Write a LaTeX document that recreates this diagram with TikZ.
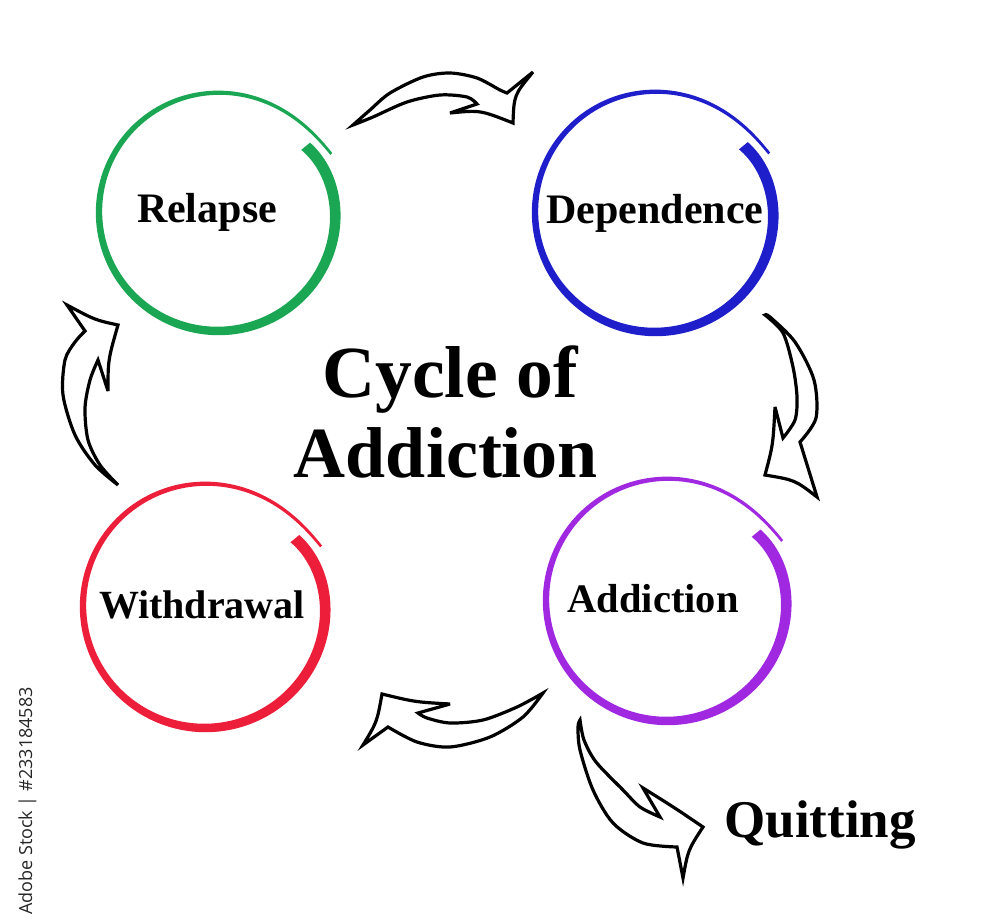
\documentclass[tikz,border=0pt]{standalone}
\usepackage{fontspec}
\setmainfont{Liberation Serif}
\newfontfamily\wmfont{Open Sans}
\definecolor{cgreen}{RGB}{26,166,82}
\definecolor{cblue}{RGB}{30,30,202}
\definecolor{cpurple}{RGB}{160,40,225}
\definecolor{cred}{RGB}{236,30,58}
\newcommand\handring[4]{% cx, cy, R, colour
  \fill[#4] plot[domain=0:1, samples=240, variable=\t]
    ({#1+(#3*rr(\t)+ww(\t)/2)*cos(th(\t))},{#2-(#3*rr(\t)+ww(\t)/2)*sin(th(\t))})
    -- plot[domain=1:0, samples=240, variable=\t]
    ({#1+(#3*rr(\t)-ww(\t)/2)*cos(th(\t))},{#2-(#3*rr(\t)-ww(\t)/2)*sin(th(\t))})
    -- cycle;}
\begin{document}
\begin{tikzpicture}[x=1pt,y=-1pt,
  declare function={
    rr(\x)=1-0.08*exp(-\x/0.06)+0.07*exp((\x-1)/0.05);
    ww(\x)=11.5-8.8*\x;
    th(\x)=37-370*\x;
  },
  arrowshape/.style={draw=black, fill=white, line width=3.2pt, line join=miter, miter limit=6},
  lbl/.style={anchor=base, inner sep=0pt, font=\bfseries\fontsize{#1}{#1}\selectfont},
]
\useasboundingbox[fill=white] (0,0) rectangle (1000,923);

% hand-drawn rings
\handring{218}{212}{119}{cgreen}
\handring{655}{212}{120}{cblue}
\handring{667}{600}{121}{cpurple}
\handring{205}{606}{122}{cred}

% labels
\node[lbl=42] (relapse) at (207,222) {Relapse};
\node[lbl=42] (dependence) at (655,223) {Dependence};
\node[lbl=40.5] (addiction) at (653,612) {Addiction};
\node[lbl=40] (withdrawal) at (202,618) {Withdrawal};
\node[lbl=73.5] (title1) at (450,397) {Cycle of};
\node[lbl=72] (title2) at (446,477) {Addiction};
\node[lbl=53] (quitting) at (820,837) {Quitting};

% curved block arrows
% Relapse -> Dependence
\draw[arrowshape] plot[smooth] coordinates {(353,125) (370,110) (390,93) (423,77) (450,73) (477,78) (500,90) (507,93)}
  -- (533,72) .. controls (514,95) .. (513,123) .. controls (480,110) .. (450,113) -- (477,104)
  -- plot[smooth] coordinates {(477,104) (467,97) (440,95) (407,102) (373,117) (353,125)} -- cycle;
% Dependence -> Addiction
\draw[arrowshape] plot[smooth] coordinates {(765,315) (783,333) (793,367) (797,397) (795,420) (783,438)}
  -- (775,407) .. controls (773,445) .. (765,475) .. controls (795,480) .. (817,497) -- (800,442)
  -- plot[smooth] coordinates {(800,442) (816,418) (814,380) (795,342) (770,317) (765,315)} -- cycle;
% Addiction -> Withdrawal
\draw[arrowshape] plot[smooth] coordinates {(543,693) (517,707) (483,720) (450,723) (427,718) (418,713)}
  -- (450,704) .. controls (415,702) .. (382,694) .. controls (377,722) .. (363,745) -- (388,727)
  -- plot[smooth] coordinates {(388,727) (417,742) (450,747) (490,737) (523,717) (543,693)} -- cycle;
% Withdrawal -> Relapse
\draw[arrowshape] plot[smooth] coordinates {(118,485) (95,465) (75,435) (63,395) (65,360) (75,342) (85,331)}
  -- (67,305) .. controls (95,320) .. (118,325) .. controls (108,360) .. (108,391) -- (98,360)
  -- plot[smooth] coordinates {(98,360) (90,380) (85,408) (88,440) (100,465) (118,485)} -- cycle;
% Addiction -> Quitting
\draw[arrowshape] plot[smooth] coordinates {(580,720) (584,740) (596,762) (623,790) (640,807) (660,817)}
  -- (643,788) .. controls (675,808) .. (703,827) .. controls (688,850) .. (683,878) -- (677,847)
  -- plot[smooth] coordinates {(677,847) (643,843) (613,823) (593,790) (580,750) (578,727) (580,720)} -- cycle;

% stock id
\node[rotate=90, anchor=base east, inner sep=0pt, text=black!85,
      font=\wmfont\fontsize{18}{18}\selectfont] (stockid) at (32,687) {Adobe Stock | \#233184583};
\end{tikzpicture}
\end{document}
